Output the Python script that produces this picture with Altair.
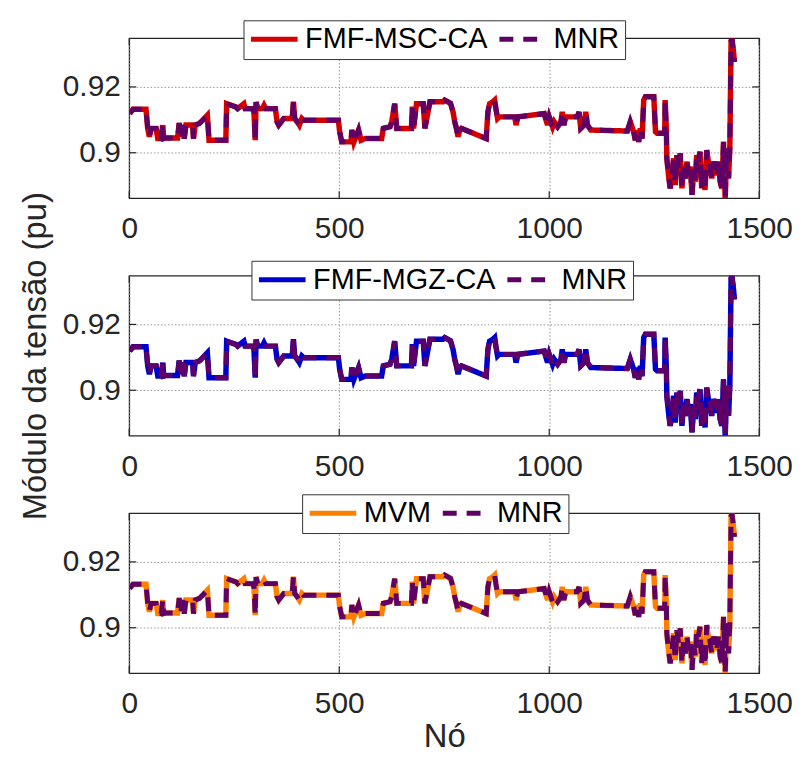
import altair as alt
import pandas as pd

# ---------------- data ----------------
nos = [1, 9, 40, 44, 48, 52, 64, 68, 76, 80,
       82, 88, 115, 119, 123, 127, 131, 135, 151, 153,
       157, 167, 175, 186, 190, 230, 232, 254, 258, 273,
       276, 293, 297, 300, 302, 306, 317, 321, 325, 348,
       352, 356, 362, 368, 388, 391, 394, 400, 405, 411,
       415, 498, 501, 506, 528, 530, 535, 546, 552, 562,
       601, 605, 621, 625, 632, 637, 672, 674, 677, 684,
       700, 704, 716, 747, 751, 765, 771, 775, 779, 783,
       787, 791, 850, 854, 858, 866, 870, 873, 877, 881,
       918, 921, 925, 988, 996, 1000, 1008, 1012, 1020, 1028,
       1031, 1035, 1039, 1067, 1071, 1075, 1083, 1087, 1091, 1099,
       1186, 1193, 1201, 1205, 1209, 1213, 1217, 1221, 1225, 1229,
       1249, 1253, 1257, 1275, 1276, 1279, 1280, 1284, 1288, 1292,
       1296, 1300, 1304, 1308, 1312, 1316, 1320, 1324, 1328, 1332,
       1336, 1340, 1344, 1348, 1351, 1355, 1359, 1363, 1367, 1371,
       1375, 1379, 1383, 1387, 1391, 1395, 1399, 1403, 1407, 1411,
       1415, 1419, 1423, 1427, 1430, 1433, 1435, 1438, 1441]

v_mnr = [0.9119, 0.9132, 0.9132, 0.9074, 0.9049, 0.9074, 0.9074, 0.9043, 0.9043, 0.9084,
         0.9043, 0.9045, 0.9045, 0.9090, 0.9049, 0.9084, 0.9043, 0.9084, 0.9084, 0.9043,
         0.9084, 0.9089, 0.9099, 0.9114, 0.9038, 0.9038, 0.9149, 0.9139, 0.9134, 0.9149,
         0.9134, 0.9134, 0.9124, 0.9038, 0.9154, 0.9134, 0.9134, 0.9144, 0.9134, 0.9134,
         0.9094, 0.9084, 0.9094, 0.9104, 0.9104, 0.9155, 0.9104, 0.9094, 0.9084, 0.9104,
         0.9099, 0.9099, 0.9064, 0.9033, 0.9033, 0.9069, 0.9033, 0.9069, 0.9038, 0.9043,
         0.9043, 0.9074, 0.9079, 0.9094, 0.9149, 0.9074, 0.9074, 0.9140, 0.9074, 0.9149,
         0.9149, 0.9074, 0.9155, 0.9155, 0.9160, 0.9150, 0.9124, 0.9094, 0.9074, 0.9049,
         0.9069, 0.9074, 0.9043, 0.9124, 0.9149, 0.9155, 0.9160, 0.9134, 0.9104, 0.9109,
         0.9109, 0.9084, 0.9109, 0.9119, 0.9084, 0.9109, 0.9079, 0.9094, 0.9079, 0.9094,
         0.9124, 0.9084, 0.9109, 0.9109, 0.9124, 0.9074, 0.9084, 0.9124, 0.9084, 0.9069,
         0.9066, 0.9094, 0.9064, 0.9038, 0.9069, 0.9033, 0.9074, 0.9043, 0.9160, 0.9170,
         0.9170, 0.9064, 0.9059, 0.9059, 0.9160, 0.9064, 0.8983, 0.8932, 0.8892, 0.8922,
         0.8983, 0.8902, 0.8993, 0.8953, 0.8998, 0.8892, 0.8963, 0.8922, 0.8973, 0.8932,
         0.8958, 0.8872, 0.8948, 0.8912, 0.8993, 0.8973, 0.9003, 0.8892, 0.8953, 0.8887,
         0.9008, 0.8973, 0.8958, 0.8922, 0.8973, 0.8953, 0.8932, 0.8973, 0.8912, 0.8892,
         0.9033, 0.8862, 0.9013, 0.8922, 0.9013, 0.9340, 0.9348, 0.9316, 0.9276]

# the three methods overlap MNR in the picture
v_fmf_msc_ca = v_mnr
v_fmf_mgz_ca = v_mnr
v_mvm = v_mnr

metodos = ["FMF-MSC-CA", "FMF-MGZ-CA", "MVM"]
cores = ["#D40000", "#0000CC", "#FF8000"]
serie_ref = "MNR"
cor_ref = "#5E0066"

x_ticks = [0, 500, 1000, 1500]
y_ticks = [0.9, 0.92]
x_dom = [0, 1500]
y_dom = [0.8862, 0.9348]

# ---------------- styling ----------------
W, H = 634, 161
FONT = "Liberation Sans"
TXT = "#262626"
TICK = 7


def painel(nome, valores, cor, y_title, x_title, leg_x, leg_y):
    n = len(nos)
    df = pd.DataFrame({
        "no": nos + nos,
        "v": list(valores) + list(v_mnr),
        "serie": [nome] * n + [serie_ref] * n,
    })
    leg = alt.Legend(
        orient="none", legendX=leg_x, legendY=leg_y, direction="horizontal",
        fillColor="white", strokeColor="#333333", padding=5,
        labelFont=FONT, labelFontSize=29, labelColor="black", labelLimit=500,
        symbolType="stroke", symbolSize=2200, symbolStrokeWidth=5, clipHeight=28,
        labelOffset=5, columnPadding=9, title=None,
    )
    xax = alt.Axis(values=x_ticks, format="d", title=x_title if x_title else None,
                   grid=True, ticks=False, domain=False, labelFlush=False,
                   labelPadding=16, titlePadding=2)
    yax = alt.Axis(values=y_ticks, format=".2~f", title=y_title if y_title else None,
                   grid=True, ticks=False, domain=False, labelPadding=9, titlePadding=10)
    xenc = alt.X("no:Q", scale=alt.Scale(domain=x_dom, nice=False, zero=False), axis=xax)
    yenc = alt.Y("v:Q", scale=alt.Scale(domain=y_dom, nice=False, zero=False), axis=yax)
    cenc = alt.Color("serie:N", scale=alt.Scale(domain=[nome, serie_ref], range=[cor, cor_ref]),
                     legend=leg)
    denc = alt.StrokeDash("serie:N", scale=alt.Scale(domain=[nome, serie_ref],
                                                      range=[[1, 0], [14, 10]]),
                          legend=leg)
    base = alt.Chart(df).encode(x=xenc, y=yenc, color=cenc, strokeDash=denc)
    l1 = base.transform_filter(alt.datum.serie == nome).mark_line(strokeWidth=5.5, clip=True)
    l2 = base.transform_filter(alt.datum.serie == serie_ref).mark_line(strokeWidth=5, clip=True)

    dy = pd.DataFrame({"v": y_ticks})
    dx = pd.DataFrame({"no": x_ticks})
    t_left = alt.Chart(dy).mark_rule(color=TXT, strokeWidth=1.2).encode(
        y=yenc, x=alt.value(0), x2=alt.value(TICK))
    t_right = alt.Chart(dy).mark_rule(color=TXT, strokeWidth=1.2).encode(
        y=yenc, x=alt.value(W - TICK), x2=alt.value(W))
    t_bot = alt.Chart(dx).mark_rule(color=TXT, strokeWidth=1.2).encode(
        x=xenc, y=alt.value(H - TICK), y2=alt.value(H))
    t_top = alt.Chart(dx).mark_rule(color=TXT, strokeWidth=1.2).encode(
        x=xenc, y=alt.value(0), y2=alt.value(TICK))
    return alt.layer(t_left, t_right, t_bot, t_top, l1, l2).properties(width=W, height=H)


p1 = painel(metodos[0], v_fmf_msc_ca, cores[0], None, None, 115, -18)
p2 = painel(metodos[1], v_fmf_mgz_ca, cores[1], "Módulo da tensão (pu)", None, 123, -15)
p3 = painel(metodos[2], v_mvm, cores[2], None, "Nó", 174, -19)

chart = alt.vconcat(p1, p2, p3, spacing=78, bounds="flush").resolve_scale(
    color="independent", strokeDash="independent", x="independent", y="independent"
).resolve_legend(color="independent", strokeDash="independent").properties(
    padding={"left": 10, "top": 8, "right": 0, "bottom": 2}
).configure_view(
    stroke=TXT, strokeWidth=1.3
).configure_axis(
    labelFont=FONT, labelFontSize=30, labelColor=TXT,
    titleFont=FONT, titleFontSize=33, titleFontWeight="normal", titleColor=TXT,
    gridColor="#8a8a8a", gridDash=[1.5, 2], gridWidth=1, gridOpacity=0.9,
)

chart.save("out.html", embed_options={"renderer": "svg", "actions": False})
